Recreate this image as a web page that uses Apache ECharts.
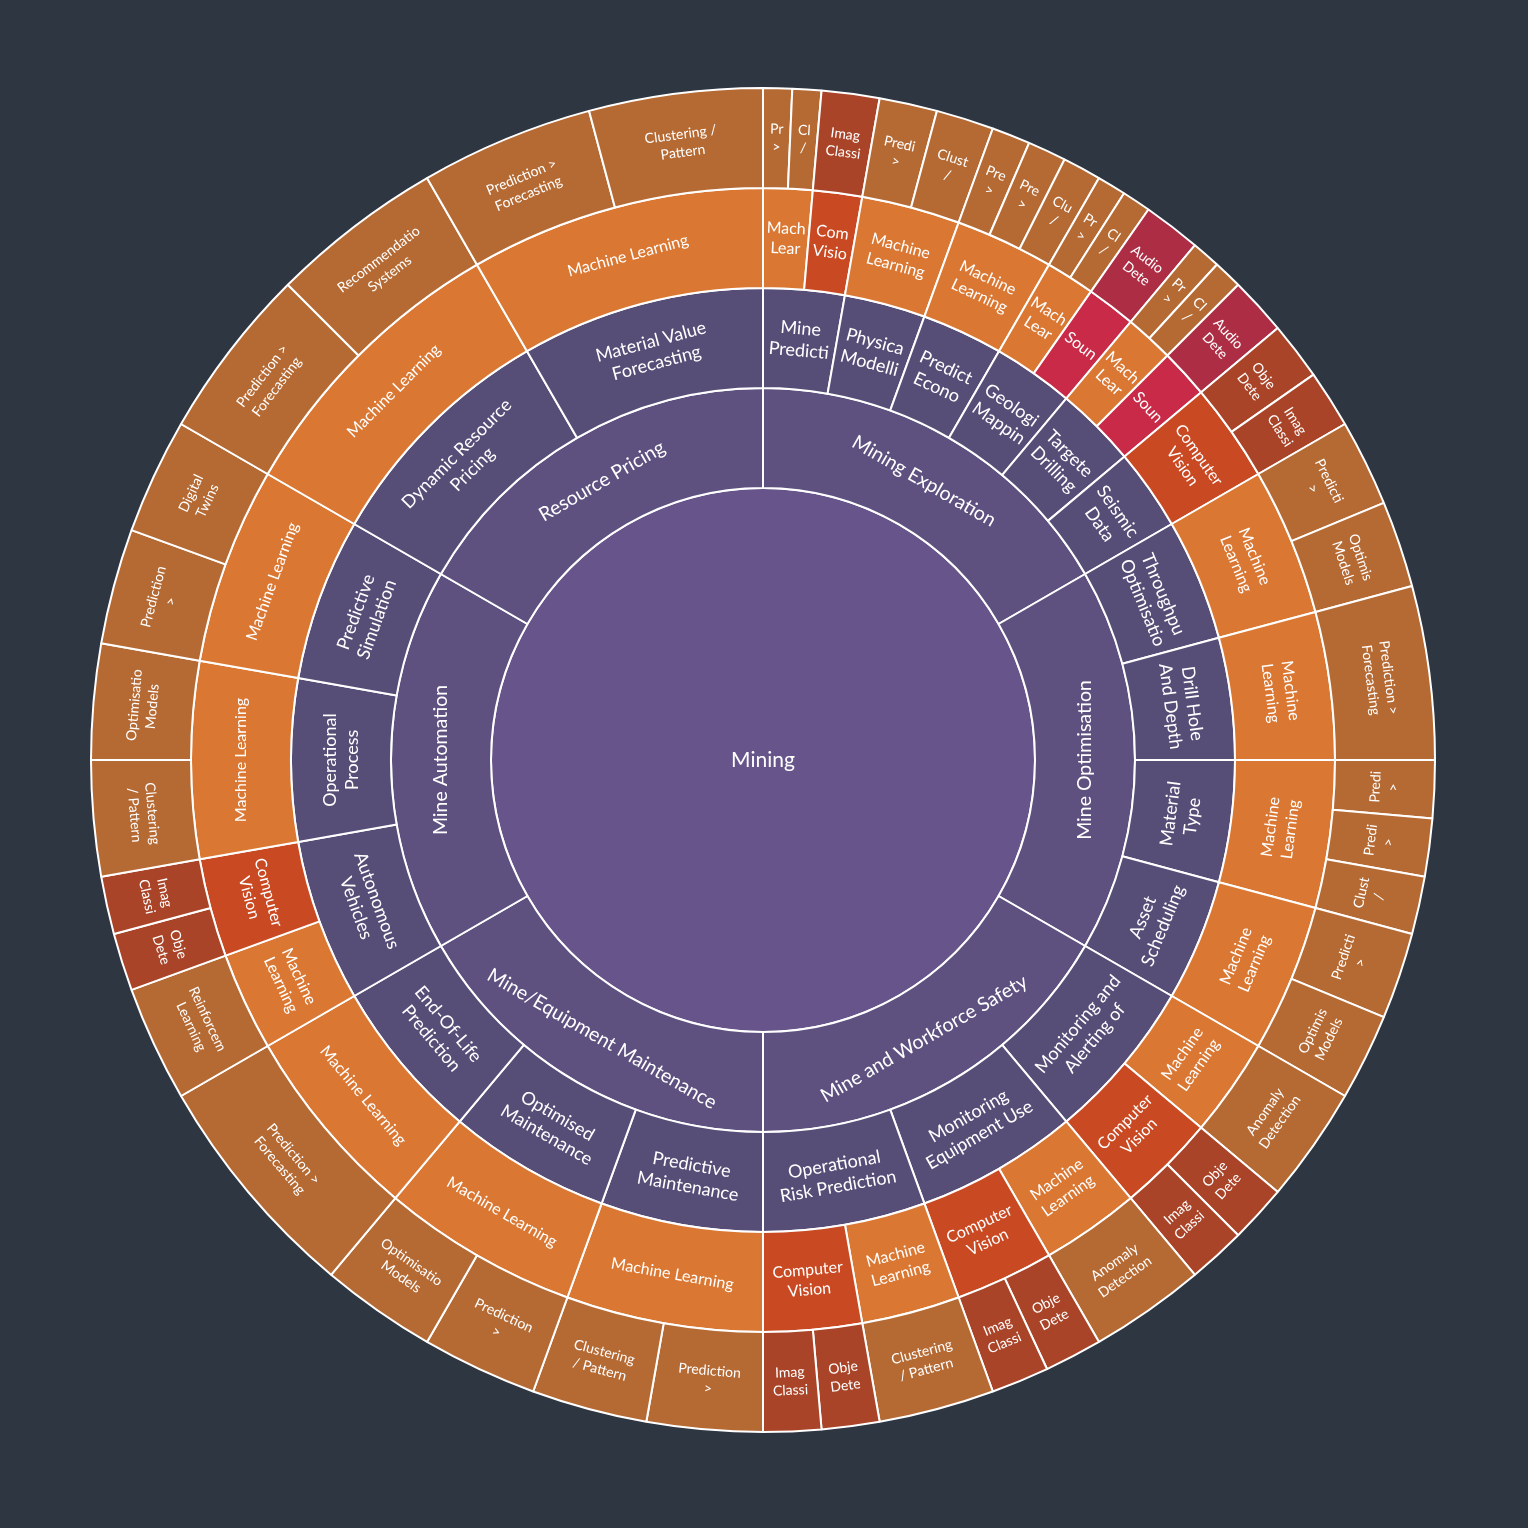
<!DOCTYPE html>
<html>
<head>
<meta charset="utf-8">
<title>Mining</title>
<script src="https://cdn.jsdelivr.net/npm/echarts@6/dist/echarts.min.js"></script>
<style>
html, body { margin: 0; padding: 0; background: #2e3642; }
#chart { width: 1528px; height: 1528px; }
</style>
</head>
<body>
<div id="chart"></div>
<script>
// rows: [use case, method label, method kind, technique label, degrees of the circle]
const miningExploration = [
    ['Mine\nPredicti', 'Mach\nLear', 'ml', 'Pr\n>', 2.5],
    ['Mine\nPredicti', 'Mach\nLear', 'ml', 'Cl\n/', 2.5],
    ['Mine\nPredicti', 'Com\nVisio', 'cv', 'Imag\nClassi', 5],
    ['Physica\nModelli', 'Machine\nLearning', 'ml', 'Predi\n>', 5],
    ['Physica\nModelli', 'Machine\nLearning', 'ml', 'Clust\n/', 5],
    ['Predict\nEcono', 'Machine\nLearning', 'ml', 'Pre\n>', 3.33],
    ['Predict\nEcono', 'Machine\nLearning', 'ml', 'Pre\n>', 3.33],
    ['Predict\nEcono', 'Machine\nLearning', 'ml', 'Clu\n/', 3.34],
    ['Geologi\nMappin', 'Mach\nLear', 'ml', 'Pr\n>', 2.5],
    ['Geologi\nMappin', 'Mach\nLear', 'ml', 'Cl\n/', 2.5],
    ['Geologi\nMappin', 'Soun', 'sound', 'Audio\nDete', 5],
    ['Targete\nDrilling', 'Mach\nLear', 'ml', 'Pr\n>', 2.5],
    ['Targete\nDrilling', 'Mach\nLear', 'ml', 'Cl\n/', 2.5],
    ['Targete\nDrilling', 'Soun', 'sound', 'Audio\nDete', 5],
    ['Seismic\nData', 'Computer\nVision', 'cv', 'Obje\nDete', 5],
    ['Seismic\nData', 'Computer\nVision', 'cv', 'Imag\nClassi', 5]
];
const mineOptimisation = [
    ['Throughpu\nOptimisatio', 'Machine\nLearning', 'ml', 'Predicti\n>', 7.5],
    ['Throughpu\nOptimisatio', 'Machine\nLearning', 'ml', 'Optimis\nModels', 7.5],
    ['Drill Hole\nAnd Depth', 'Machine\nLearning', 'ml', 'Prediction >\nForecasting', 15],
    ['Material\nType', 'Machine\nLearning', 'ml', 'Predi\n>', 5],
    ['Material\nType', 'Machine\nLearning', 'ml', 'Predi\n>', 5],
    ['Material\nType', 'Machine\nLearning', 'ml', 'Clust\n/', 5],
    ['Asset\nScheduling', 'Machine\nLearning', 'ml', 'Predicti\n>', 7.5],
    ['Asset\nScheduling', 'Machine\nLearning', 'ml', 'Optimis\nModels', 7.5]
];
const workforceSafety = [
    ['Monitoring and\nAlerting of', 'Machine\nLearning', 'ml', 'Anomaly\nDetection', 10],
    ['Monitoring and\nAlerting of', 'Computer\nVision', 'cv', 'Obje\nDete', 5],
    ['Monitoring and\nAlerting of', 'Computer\nVision', 'cv', 'Imag\nClassi', 5],
    ['Monitoring\nEquipment Use', 'Machine\nLearning', 'ml', 'Anomaly\nDetection', 10],
    ['Monitoring\nEquipment Use', 'Computer\nVision', 'cv', 'Obje\nDete', 5],
    ['Monitoring\nEquipment Use', 'Computer\nVision', 'cv', 'Imag\nClassi', 5],
    ['Operational\nRisk Prediction', 'Machine\nLearning', 'ml', 'Clustering\n/ Pattern', 10],
    ['Operational\nRisk Prediction', 'Computer\nVision', 'cv', 'Obje\nDete', 5],
    ['Operational\nRisk Prediction', 'Computer\nVision', 'cv', 'Imag\nClassi', 5]
];
const equipmentMaintenance = [
    ['Predictive\nMaintenance', 'Machine Learning', 'ml', 'Prediction\n>', 10],
    ['Predictive\nMaintenance', 'Machine Learning', 'ml', 'Clustering\n/ Pattern', 10],
    ['Optimised\nMaintenance', 'Machine Learning', 'ml', 'Prediction\n>', 10],
    ['Optimised\nMaintenance', 'Machine Learning', 'ml', 'Optimisatio\nModels', 10],
    ['End-Of-Life\nPrediction', 'Machine Learning', 'ml', 'Prediction >\nForecasting', 20]
];
const mineAutomation = [
    ['Autonomous\nVehicles', 'Machine\nLearning', 'ml', 'Reinforcem\nLearning', 10],
    ['Autonomous\nVehicles', 'Computer\nVision', 'cv', 'Obje\nDete', 5],
    ['Autonomous\nVehicles', 'Computer\nVision', 'cv', 'Imag\nClassi', 5],
    ['Operational\nProcess', 'Machine Learning', 'ml', 'Clustering\n/ Pattern', 10],
    ['Operational\nProcess', 'Machine Learning', 'ml', 'Optimisatio\nModels', 10],
    ['Predictive\nSimulation', 'Machine Learning', 'ml', 'Prediction\n>', 10],
    ['Predictive\nSimulation', 'Machine Learning', 'ml', 'Digital\nTwins', 10]
];
const resourcePricing = [
    ['Dynamic Resource\nPricing', 'Machine Learning', 'ml', 'Prediction >\nForecasting', 15],
    ['Dynamic Resource\nPricing', 'Machine Learning', 'ml', 'Recommendatio\nSystems', 15],
    ['Material Value\nForecasting', 'Machine Learning', 'ml', 'Prediction >\nForecasting', 15],
    ['Material Value\nForecasting', 'Machine Learning', 'ml', 'Clustering /\nPattern', 15]
];
const domainNames = ['Mining Exploration', 'Mine Optimisation', 'Mine and Workforce Safety', 'Mine/Equipment Maintenance', 'Mine Automation', 'Resource Pricing'];
const domainRows = [miningExploration, mineOptimisation, workforceSafety, equipmentMaintenance, mineAutomation, resourcePricing];

const methodColors = { ml: '#da7833', cv: '#c94922', sound: '#c92a47' };
const leafColors = { ml: '#b56a34', cv: '#a94428', sound: '#ac2d44' };
const fontName = 'Lato';

function lastChild(list, name) {
    let node = list[list.length - 1];
    if (!node || node.name !== name) {
        node = { name: name, children: [] };
        list.push(node);
    }
    return node;
}

function buildDomain(name, rows) {
    const subs = [];
    rows.forEach(function (row) {
        const sub = lastChild(subs, row[0]);
        const method = lastChild(sub.children, row[1]);
        method.itemStyle = { color: methodColors[row[2]] };
        method.children.push({ name: row[3], value: row[4], itemStyle: { color: leafColors[row[2]] } });
    });
    return { name: name, children: subs };
}

const domains = domainNames.map(function (name, i) { return buildDomain(name, domainRows[i]); });

// nodes centred on exactly 270 degrees read upwards, tangential would flip them
const automation = domains[4];
const upright = { rotate: 90 };
automation.label = upright;
automation.children[1].label = upright;
automation.children[1].children[0].label = upright;

const chart = echarts.init(document.getElementById('chart'));
chart.setOption({
    backgroundColor: '#2e3642',
    textStyle: { fontFamily: fontName },
    series: [{
        type: 'sunburst',
        center: [763, 760],
        startAngle: 90,
        sort: null,
        nodeClick: false,
        emphasis: { disabled: true },
        itemStyle: { borderColor: '#fff', borderWidth: 2 },
        label: { color: '#fff', fontFamily: fontName, rotate: 'tangential', minAngle: 0, lineHeight: 20 },
        levels: [
            {},
            { r0: 0, r: 272, itemStyle: { color: '#67548a' }, label: { fontSize: 21, rotate: 0 } },
            { r0: 272, r: 372, itemStyle: { color: '#5e5180' }, label: { fontSize: 19.5 } },
            { r0: 372, r: 472, itemStyle: { color: '#574e78' }, label: { fontSize: 18, lineHeight: 22 } },
            { r0: 472, r: 572, label: { fontSize: 16, lineHeight: 20 } },
            { r0: 572, r: 672, label: { fontSize: 14, lineHeight: 18 } }
        ],
        data: [{ name: 'Mining', children: domains }]
    }]
});
</script>
</body>
</html>
